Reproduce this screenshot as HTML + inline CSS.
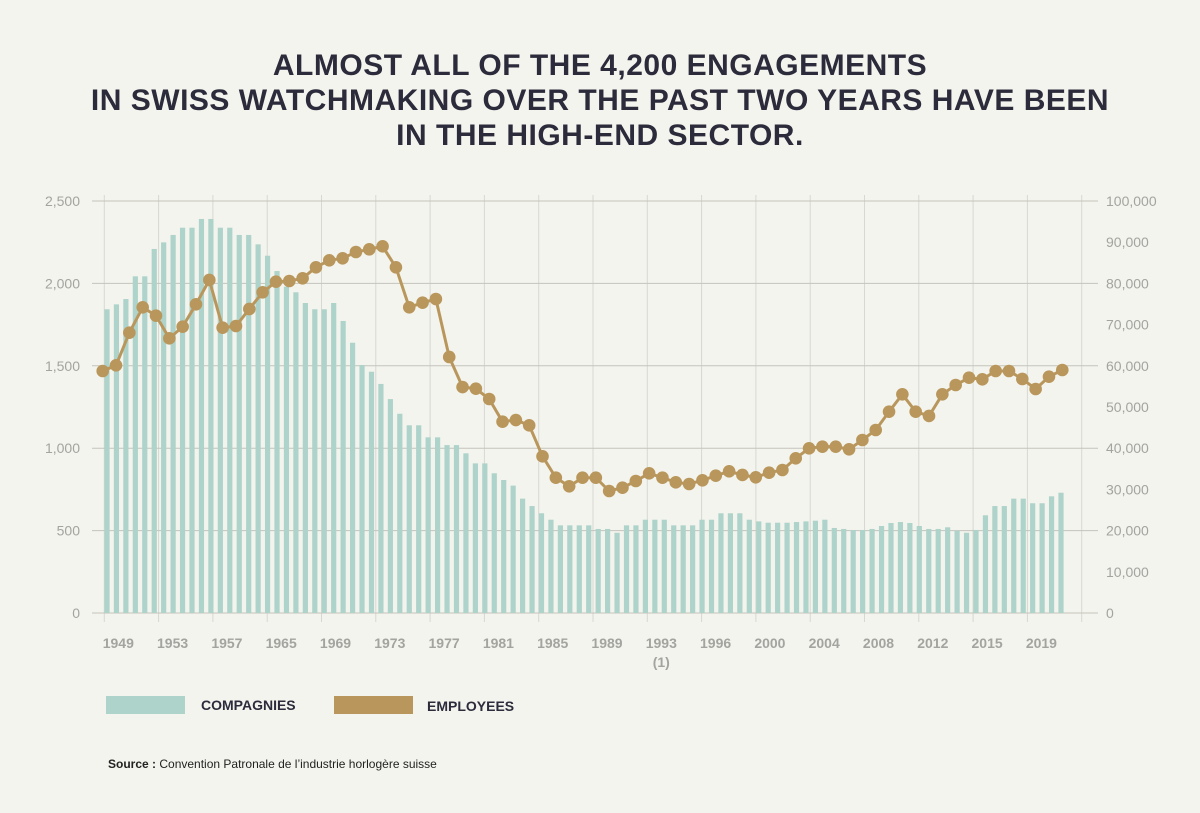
<!DOCTYPE html>
<html><head><meta charset="utf-8">
<style>
html,body{margin:0;padding:0;background:#f4f4ee;}
body{width:1200px;height:813px;overflow:hidden;position:relative;font-family:"Liberation Sans",sans-serif;}
.title{position:absolute;left:0;top:48px;width:1200px;text-align:center;font-weight:bold;font-size:30px;line-height:35px;color:#2b2b3b;letter-spacing:0.5px;}
svg{position:absolute;left:0;top:0;}
</style></head><body>
<div class="title">ALMOST ALL OF THE 4,200 ENGAGEMENTS<br>IN SWISS WATCHMAKING OVER THE PAST TWO YEARS HAVE BEEN<br>IN THE HIGH-END SECTOR.</div>
<svg id="chart" width="1200" height="813"></svg>
<script>
const companies=[1843,1873,1905,2043,2043,2209,2249,2294,2338,2338,2391,2391,2338,2338,2294,2294,2237,2168,2075,1980,1946,1881,1843,1843,1881,1772,1640,1505,1464,1390,1298,1209,1139,1139,1066,1066,1019,1019,969,908,908,848,807,773,694,649,605,566,532,532,532,532,510,510,487,532,532,566,566,566,532,532,532,566,566,605,605,605,566,556,548,548,548,552,556,560,566,516,510,504,504,510,528,546,552,546,528,510,510,520,499,487,504,593,649,649,694,694,666,666,708,730];
const employees=[58740,60120,68030,74200,72160,66670,69490,74930,80830,69250,69660,73790,77840,80410,80580,81240,83910,85610,86090,87620,88270,89000,83910,74200,75320,76210,62140,54850,54440,51940,46430,46840,45550,38030,32840,30750,32840,32840,29610,30410,32040,33910,32840,31720,31310,32210,33330,34390,33500,32940,34050,34710,37550,39970,40370,40370,39730,41990,44420,48860,53080,48860,47820,53080,55340,57110,56720,58740,58740,56800,54370,57350,58980];
const xLabels=["1949","1953","1957","1965","1969","1973","1977","1981","1985","1989","1993","1996","2000","2004","2008","2012","2015","2019"];
const leftTicks=[0,500,1000,1500,2000,2500];
const rightTicks=[0,10000,20000,30000,40000,50000,60000,70000,80000,90000,100000];

const svg=document.getElementById('chart');
const NS='http://www.w3.org/2000/svg';
const y0=613,yTop=201;
const yL=v=>y0-(v/2500)*(y0-yTop);
const yR=v=>y0-(v/100000)*(y0-yTop);
const xBar=i=>107+i*(1061-107)/(companies.length-1);
const xPt=i=>102.7+i*(1062.3-102.7)/(employees.length-1);
const xGrid=k=>104.3+k*54.3;
function mk(t,a){const e=document.createElementNS(NS,t);for(const k in a)e.setAttribute(k,a[k]);svg.appendChild(e);return e;}

// vertical grid
for(let k=0;k<=xLabels.length;k++){
  const l=mk('line',{x1:xGrid(k),x2:xGrid(k),y1:195,y2:622,stroke:'#d8d8d2','stroke-width':1});
  
  
}
// horizontal grid
leftTicks.forEach(v=>{
  const l=mk('line',{x1:92,x2:1098,y1:yL(v),y2:yL(v),stroke:'#c4c4bc','stroke-width':1});
  
  
  const t=mk('text',{x:80,y:yL(v)+5,'text-anchor':'end','font-size':14,fill:'#a3a3a0','font-family':'Liberation Sans, sans-serif'});
  t.textContent=v.toLocaleString('en-US');
  
  
});
rightTicks.forEach(v=>{
  const t=mk('text',{x:1106,y:yR(v)+5,'font-size':14,fill:'#a3a3a0','font-family':'Liberation Sans, sans-serif'});
  t.textContent=v.toLocaleString('en-US');
  
  
});
// bars
companies.forEach((v,i)=>{
  const r=mk('rect',{x:xBar(i)-2.6,y:yL(v),width:5.2,height:y0-yL(v),fill:'#aed3ca'});
  
  
});
// line
const pl=mk('polyline',{points:employees.map((v,i)=>xPt(i)+','+yR(v)).join(' '),fill:'none',stroke:'#b9975c','stroke-width':3});


employees.forEach((v,i)=>{
  const c=mk('circle',{cx:xPt(i),cy:yR(v),r:6.3,fill:'#b9975c'});
  
  
});
// x labels
xLabels.forEach((s,k)=>{
  const t=mk('text',{x:xGrid(k)+14,y:648,'text-anchor':'middle','font-size':14,'font-weight':'bold',fill:'#a3a3a0','font-family':'Liberation Sans, sans-serif'});
  t.textContent=s;
  
  
});
const n1=mk('text',{x:xGrid(10)+14,y:667,'text-anchor':'middle','font-size':14,'font-weight':'bold',fill:'#a3a3a0','font-family':'Liberation Sans, sans-serif'});
n1.textContent='(1)';


// legend
const lr1=mk('rect',{x:106,y:696,width:79,height:18,fill:'#aed3ca'});


const lt1=mk('text',{x:201,y:710,'font-size':14,'font-weight':'bold',fill:'#2b2b3b','font-family':'Liberation Sans, sans-serif'});
lt1.textContent='COMPAGNIES';


const lr2=mk('rect',{x:334,y:696,width:79,height:18,fill:'#b9975c'});


const lt2=mk('text',{x:427,y:711,'font-size':14,'font-weight':'bold',fill:'#2b2b3b','font-family':'Liberation Sans, sans-serif'});
lt2.textContent='EMPLOYEES';


// source
const src=mk('text',{x:108,y:768,'font-size':12,fill:'#222','font-family':'Liberation Sans, sans-serif'});
src.innerHTML='<tspan font-weight="bold">Source :</tspan> Convention Patronale de l’industrie horlogère suisse';


</script>
</body></html>
